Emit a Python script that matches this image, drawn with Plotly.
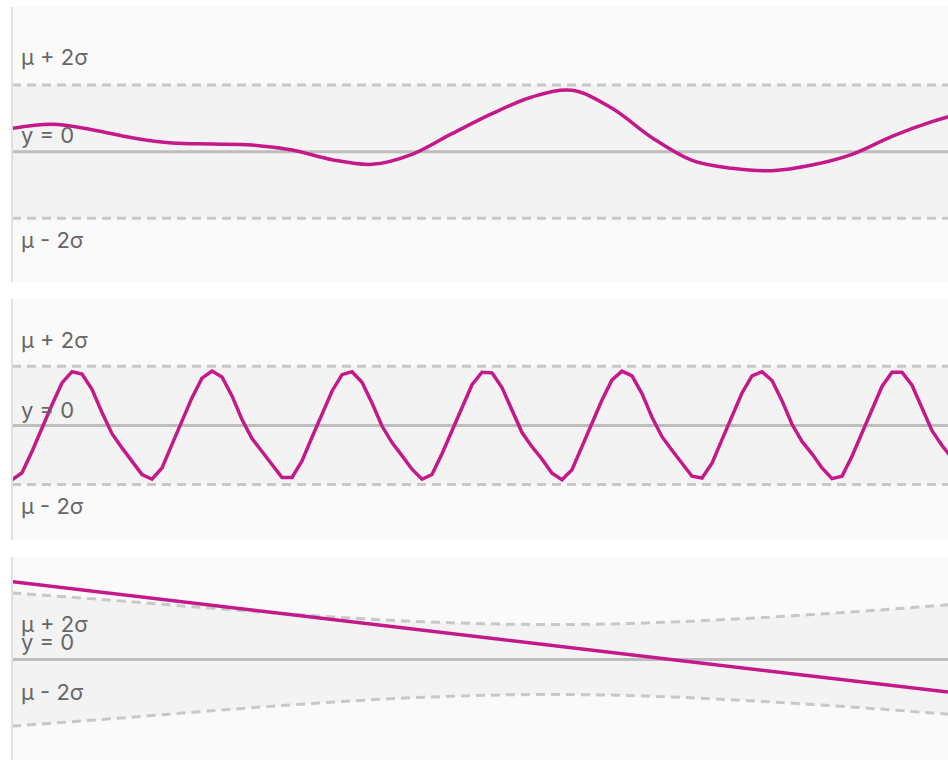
import plotly.graph_objects as go

# ---- shared x grid (sample index) ----
x_lo, x_hi = 0.1, 93.6

# ---- panel 1: smooth drifting signal ----
p1_t = [0, 4, 8, 12, 16, 20, 24, 28, 32, 36, 40, 44, 48, 52, 56, 60, 64, 68,
        72, 76, 80, 84, 88, 92, 96]
p1_y = [0.35, 0.41, 0.33, 0.21, 0.13, 0.115, 0.10, 0.025, -0.12, -0.19, -0.04,
        0.27, 0.57, 0.82, 0.92, 0.65, 0.21, -0.13, -0.25, -0.285, -0.20, -0.04,
        0.23, 0.45, 0.62]

# ---- panel 2: periodic signal ----
p2_t = list(range(95))
p2_y = [-0.92, -0.80, -0.44, -0.04, 0.35, 0.72, 0.91, 0.87, 0.61, 0.22,
        -0.14, -0.38, -0.60, -0.83, -0.91, -0.72, -0.32, 0.08, 0.47, 0.80,
        0.92, 0.82, 0.50, 0.10, -0.22, -0.44, -0.67, -0.88, -0.88, -0.60,
        -0.20, 0.19, 0.58, 0.86, 0.91, 0.73, 0.38, -0.01, -0.29, -0.51,
        -0.74, -0.91, -0.83, -0.48, -0.08, 0.31, 0.69, 0.90, 0.89, 0.64,
        0.26, -0.12, -0.36, -0.57, -0.81, -0.92, -0.75, -0.36, 0.04, 0.43,
        0.77, 0.92, 0.84, 0.54, 0.14, -0.19, -0.42, -0.65, -0.86, -0.89,
        -0.64, -0.24, 0.16, 0.55, 0.84, 0.91, 0.76, 0.42, 0.02, -0.27,
        -0.48, -0.72, -0.90, -0.86, -0.52, -0.12, 0.27, 0.66, 0.90, 0.90,
        0.68, 0.30, -0.09, -0.34, -0.55]

# ---- panel 3: linear trend with widening band ----
p3_t = [0, 93.6]
p3_y = [1.17, -0.49]
p3_band_t = [0, 10, 20, 30, 40, 50, 60, 70, 80, 90, 100]
p3_band_upper = [1.00, 0.89, 0.77, 0.66, 0.575, 0.53, 0.535, 0.59, 0.675, 0.78, 0.90]
p3_band_lower = [-1.00, -0.89, -0.77, -0.66, -0.575, -0.53, -0.535, -0.59, -0.675, -0.78, -0.90]

# constant bands for panels 1 and 2
flat_t = [0, 100]
flat_upper = [1, 1]
flat_lower = [-1, -1]
zero_y = [0, 0]

# label positions (value units of each panel)
labels = ["μ + 2σ", "y = 0", "μ - 2σ"]
label_y = {
    1: [1.42, 0.25, -1.32],
    2: [1.45, 0.27, -1.36],
    3: [0.53, 0.27, -0.49],
}

y_ranges = {1: [-1.955, 2.17], 2: [-1.93, 2.14], 3: [-1.51, 1.54]}
H, W, T = 760, 948, 7
ph = H - T
def dom(top_px, bot_px):
    return [(H - bot_px) / ph, (H - top_px) / ph]
domains = {1: dom(7, 282), 2: dom(299, 539.5), 3: dom(557, 760)}

CURVE = "#c4198a"
DASH = "#c8c8c8"
ZERO = "#bdbdbd"
BAND = "#f3f3f3"

panels = {
    1: dict(t=p1_t, y=p1_y, shape="spline", bt=flat_t, up=flat_upper, lo=flat_lower, bshape="linear"),
    2: dict(t=p2_t, y=p2_y, shape="linear", bt=flat_t, up=flat_upper, lo=flat_lower, bshape="linear"),
    3: dict(t=p3_t, y=p3_y, shape="linear", bt=p3_band_t, up=p3_band_upper, lo=p3_band_lower, bshape="spline"),
}

fig = go.Figure()
for i, p in panels.items():
    xa = "x" if i == 1 else f"x{i}"
    ya = "y" if i == 1 else f"y{i}"
    common = dict(xaxis=xa, yaxis=ya, showlegend=False, hoverinfo="skip", mode="lines")
    # band fill
    fig.add_trace(go.Scatter(x=p["bt"], y=p["lo"], line=dict(width=0, shape=p["bshape"]), **common))
    fig.add_trace(go.Scatter(x=p["bt"], y=p["up"], line=dict(width=0, shape=p["bshape"]),
                             fill="tonexty", fillcolor=BAND, **common))
    # dashed band edges
    for edge in (p["up"], p["lo"]):
        fig.add_trace(go.Scatter(x=p["bt"], y=edge,
                                 line=dict(color=DASH, width=3, dash="9px,6px", shape=p["bshape"]),
                                 **common))
    # zero line
    fig.add_trace(go.Scatter(x=flat_t, y=zero_y, line=dict(color=ZERO, width=3), **common))
    # signal
    fig.add_trace(go.Scatter(x=p["t"], y=p["y"], line=dict(color=CURVE, width=3.5, shape=p["shape"]), **common))

    for txt, yv in zip(labels, label_y[i]):
        fig.add_annotation(x=0.65, y=yv, xref=xa, yref=ya, text=txt, showarrow=False,
                           xanchor="left", yanchor="middle",
                           font=dict(family="Inter", size=22, color="#666666"))

layout = dict(
    width=W, height=H,
    margin=dict(l=13, r=0, t=T, b=0),
    paper_bgcolor="white", plot_bgcolor="#fafafa",
)
for i in (1, 2, 3):
    xk = "xaxis" if i == 1 else f"xaxis{i}"
    yk = "yaxis" if i == 1 else f"yaxis{i}"
    ya = "y" if i == 1 else f"y{i}"
    xa = "x" if i == 1 else f"x{i}"
    layout[xk] = dict(domain=[0, 1], anchor=ya, range=[x_lo, x_hi], visible=False, fixedrange=True)
    layout[yk] = dict(domain=domains[i], anchor=xa, range=y_ranges[i], showgrid=False,
                      zeroline=False, showticklabels=False, ticks="",
                      showline=True, linecolor="#e0e0e0", linewidth=2)
fig.update_layout(**layout)

fig.write_html("out.html")
